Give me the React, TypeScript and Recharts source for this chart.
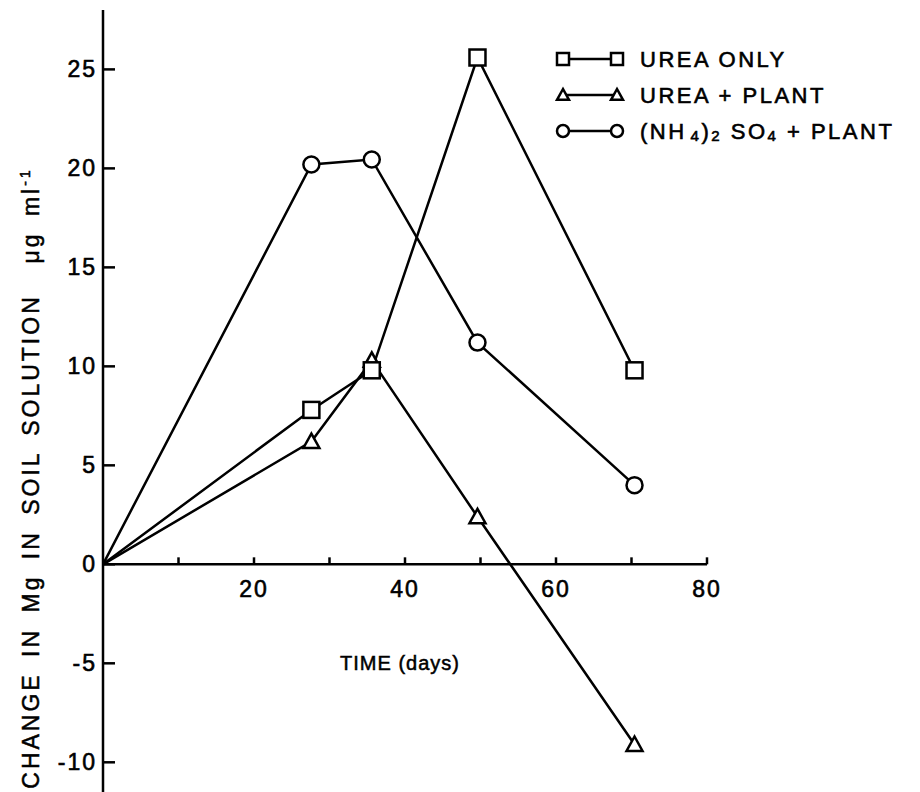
import React from 'react';
import { LineChart, Line, XAxis, YAxis, ReferenceLine, ReferenceDot, Legend } from 'recharts';

// ---- data ----
const days = [0, 27.6, 35.6, 49.6, 70.4];
const ureaOnly = [0, 7.8, 9.8, 25.6, 9.8];
const ureaPlant = [0, 6.2, 10.3, 2.4, -9.1];
const nh4Plant = [0, 20.2, 20.45, 11.2, 4.0];

const xTickMarks = [10, 20, 30, 40, 50, 60, 70, 80];
const xTickLabels = [20, 40, 60, 80];
const yTicks = [-10, -5, 0, 5, 10, 15, 20, 25];
const seriesNames = ['UREA ONLY', 'UREA + PLANT', '(NH4)2 SO4 + PLANT'];
const xTitle = 'TIME (days)';
const yTitle = 'CHANGE IN Mg IN SOIL SOLUTION\u00a0\u00a0\u03bcg ml';

const data = days.map((d, i) => ({
  day: d,
  ureaOnly: ureaOnly[i],
  ureaPlant: ureaPlant[i],
  nh4Plant: nh4Plant[i],
}));

const FONT = '"Liberation Sans", Arial, Helvetica, sans-serif';
const SW = 2.5;
const TXT_STROKE = 0.6;

function marker(kind: number, cx: number, cy: number, s: number) {
  if (kind === 0) {
    return <rect x={cx - s} y={cy - s} width={2 * s} height={2 * s} fill="#fff" stroke="#000" strokeWidth={SW} />;
  }
  if (kind === 1) {
    return (
      <polygon
        points={`${cx},${cy - s} ${cx - s},${cy + 0.8 * s} ${cx + s},${cy + 0.8 * s}`}
        fill="#fff"
        stroke="#000"
        strokeWidth={SW}
        strokeLinejoin="miter"
      />
    );
  }
  return <circle cx={cx} cy={cy} r={s} fill="#fff" stroke="#000" strokeWidth={SW} />;
}

const makeDot = (kind: number) => (props: any) => {
  const { cx, cy, index } = props;
  if (index === 0 || cx == null || cy == null) return <g key={`d-${kind}-${index}`} />;
  return <g key={`d-${kind}-${index}`}>{marker(kind, cx, cy, 8)}</g>;
};

const YTick = (props: any) => {
  const { x, y, payload } = props;
  return (
    <g>
      <line x1={x} y1={y} x2={x + 12} y2={y} stroke="#000" strokeWidth={SW} />
      <text
        x={x - 6}
        y={y}
        textAnchor="end"
        dominantBaseline="central"
        fontFamily={FONT}
        fontSize={23}
        letterSpacing={2}
        fill="#000"
        stroke="#000"
        strokeWidth={TXT_STROKE}
      >
        {payload.value}
      </text>
    </g>
  );
};

const legendLabel = (i: number) => {
  if (i < 2) return seriesNames[i];
  return (
    <>
      <tspan>(NH</tspan>
      <tspan fontSize={15} dx={4} dy={4}>4</tspan>
      <tspan dy={-4}>)</tspan>
      <tspan fontSize={15} dy={4}>2</tspan>
      <tspan dy={-4}> SO</tspan>
      <tspan fontSize={15} dy={4}>4</tspan>
      <tspan dy={-4}> + PLANT</tspan>
    </>
  );
};

const renderLegend = () => (
  <svg width={370} height={125} style={{ display: 'block', overflow: 'visible' }}>
    {seriesNames.map((name, i) => {
      const y = 19 + i * 36;
      return (
        <g key={name}>
          <line x1={13} x2={67} y1={y} y2={y} stroke="#000" strokeWidth={SW} />
          {marker(i, 13, y, 6)}
          {marker(i, 67, y, 6)}
          <text
            x={90}
            y={y}
            dominantBaseline="central"
            fontFamily={FONT}
            fontSize={22}
            letterSpacing={2.5}
            fill="#000"
            stroke="#000"
            strokeWidth={TXT_STROKE}
          >
            {legendLabel(i)}
          </text>
        </g>
      );
    })}
  </svg>
);

const xTickShape = (v: number) => (p: any) => (
  <g>
    <line x1={p.cx} y1={p.cy} x2={p.cx} y2={p.cy - 7} stroke="#000" strokeWidth={SW} />
    {xTickLabels.includes(v) ? (
      <text
        x={p.cx}
        y={p.cy + 25}
        textAnchor="middle"
        dominantBaseline="central"
        fontFamily={FONT}
        fontSize={23}
        letterSpacing={2}
        fill="#000"
        stroke="#000"
        strokeWidth={TXT_STROKE}
      >
        {v}
      </text>
    ) : null}
  </g>
);

export default function App() {
  return (
    <div style={{ position: 'relative', width: 912, height: 784, background: '#fff' }}>
      <LineChart
        width={912}
        height={784}
        data={data}
        margin={{ top: 2, right: 213, bottom: 0, left: 35 }}
      >
        <XAxis dataKey="day" type="number" domain={[0, 80]} hide />
        <YAxis
          type="number"
          domain={[-11.5, 28]}
          ticks={yTicks}
          width={60}
          axisLine={{ stroke: '#000', strokeWidth: SW }}
          tickLine={false}
          tickSize={0}
          tickMargin={0}
          tick={<YTick />}
          interval={0}
        />
        <ReferenceLine
          segment={[{ x: 0, y: 0 }, { x: 80, y: 0 }]}
          stroke="#000"
          strokeWidth={SW}
        />
        {xTickMarks.map((v) => (
          <ReferenceDot key={`xt-${v}`} x={v} y={0} r={0} shape={xTickShape(v)} />
        ))}
        <Line
          dataKey="ureaPlant"
          stroke="#000"
          strokeWidth={SW}
          dot={makeDot(1)}
          isAnimationActive={false}
          type="linear"
        />
        <Line
          dataKey="ureaOnly"
          stroke="#000"
          strokeWidth={SW}
          dot={makeDot(0)}
          isAnimationActive={false}
          type="linear"
        />
        <Line
          dataKey="nh4Plant"
          stroke="#000"
          strokeWidth={SW}
          dot={makeDot(2)}
          isAnimationActive={false}
          type="linear"
        />
        <Legend
          layout="horizontal"
          verticalAlign="middle"
          align="center"
          content={renderLegend}
          wrapperStyle={{ position: 'absolute', left: 542, top: 32, width: 370, height: 125 }}
        />
      </LineChart>
      <div
        style={{
          position: 'absolute',
          left: 392,
          top: 655,
          transform: 'translate(-50%, -50%)',
          fontFamily: FONT,
          fontSize: 20,
          letterSpacing: 1,
          whiteSpace: 'nowrap',
          color: '#000',
          WebkitTextStroke: '0.5px #000',
        }}
      >
        {xTitle}
      </div>
      <div
        style={{
          position: 'absolute',
          left: 20,
          top: 470,
          transform: 'translate(-50%, -50%) rotate(-90deg)',
          fontFamily: FONT,
          fontSize: 23,
          letterSpacing: 3,
          wordSpacing: 6,
          whiteSpace: 'nowrap',
          color: '#000',
          lineHeight: '26px',
          WebkitTextStroke: '0.5px #000',
        }}
      >
        {yTitle}
        <sup style={{ fontSize: 14 }}>-1</sup>
      </div>
    </div>
  );
}
